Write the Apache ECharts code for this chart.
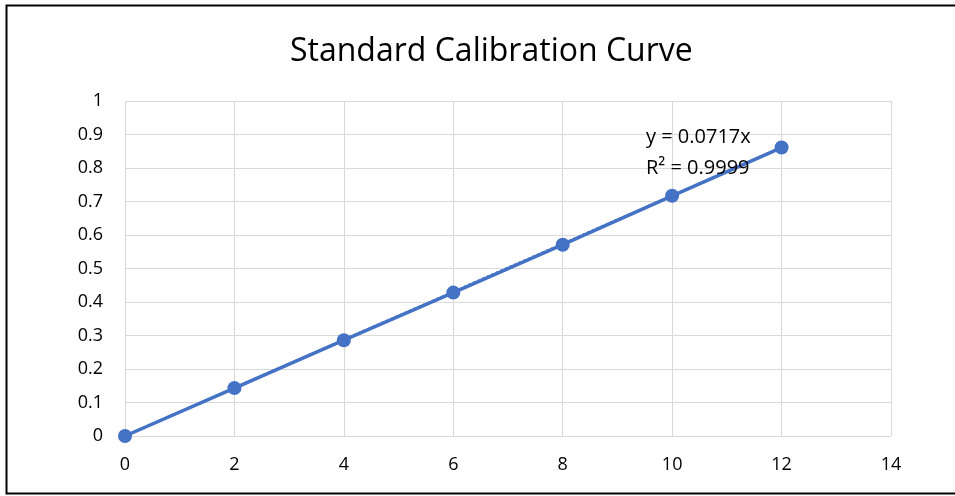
<!DOCTYPE html>
<html>
<head>
<meta charset="utf-8">
<script src="https://cdn.jsdelivr.net/npm/echarts@6/dist/echarts.min.js"></script>
<style>
html,body{margin:0;padding:0;background:#fff;}
#chart{width:955px;height:496px;}
</style>
</head>
<body>
<div id="chart"></div>
<script>
// ---- data ----
var titleText = 'Standard Calibration Curve';
var concentrations = [0, 2, 4, 6, 8, 10, 12];
var absorbance = [0, 0.143, 0.286, 0.428, 0.571, 0.717, 0.861];
var trendX = [0, 12];
var trendY = [0, 0.8604];
var equationLines = ['y = 0.0717x', 'R² = 0.9999'];

var FONT = '"Open Sans", "Noto Sans", sans-serif';
var BLUE = '#4472C4';

var chart = echarts.init(document.getElementById('chart'), null, {renderer: 'canvas'});

var pts = concentrations.map(function (x, i) { return [x, absorbance[i]]; });
var trend = trendX.map(function (x, i) { return [x, trendY[i]]; });

chart.setOption({
  animation: false,
  backgroundColor: '#fff',
  title: {
    text: titleText,
    left: 285,
    top: 31,
    textStyle: {fontFamily: FONT, fontSize: 32, fontWeight: 'normal', color: '#000'}
  },
  grid: {left: 125, right: 64, top: 101, bottom: 60, containLabel: false},
  xAxis: {
    type: 'value', min: 0, max: 14, interval: 2,
    axisLine: {show: false},
    axisTick: {show: false},
    splitLine: {show: true, lineStyle: {color: '#d9d9d9', width: 1}},
    axisLabel: {fontFamily: FONT, fontSize: 18, color: '#000', margin: 20}
  },
  yAxis: {
    type: 'value', min: 0, max: 1, interval: 0.1,
    axisLine: {show: false},
    axisTick: {show: false},
    splitLine: {show: true, lineStyle: {color: '#d9d9d9', width: 1}},
    axisLabel: {fontFamily: FONT, fontSize: 18, color: '#000', margin: 22,
      formatter: function (v) { return String(+v.toFixed(1)); }}
  },
  series: [
    {
      type: 'line', data: trend, showSymbol: false, symbol: 'none',
      lineStyle: {color: BLUE, width: 2.5, type: 'dotted'}, z: 2
    },
    {
      type: 'line', data: pts, symbol: 'circle', symbolSize: 14,
      itemStyle: {color: BLUE},
      lineStyle: {color: BLUE, width: 3.5}, z: 3
    }
  ],
  graphic: [
    {type: 'rect', shape: {x: 6.5, y: 5.5, width: 1000, height: 488}, style: {fill: 'none', stroke: '#000', lineWidth: 2}, silent: true, z: 100},
    {type: 'text', left: 646, top: 122, style: {text: equationLines.join('\n'), font: '20px ' + FONT, fill: '#000', lineHeight: 31}, z: 50}
  ]
});
</script>
</body>
</html>
